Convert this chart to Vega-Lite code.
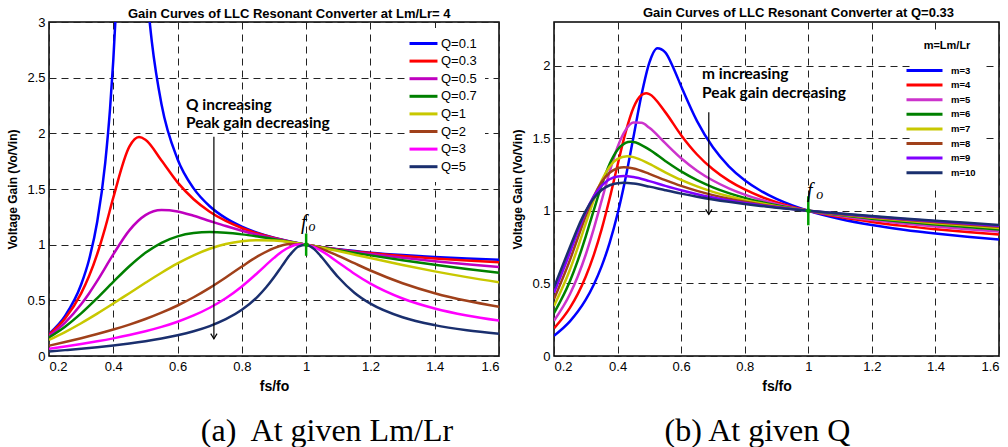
{
"$schema":"https://vega.github.io/schema/vega-lite/v6.json",
"padding":{"left":6,"top":6,"right":0,"bottom":0},
"background":"white",
"config":{
 "font":"Liberation Sans",
 "view":{"stroke":"black","strokeWidth":1.5},
 "axis":{"labelFont":"Liberation Sans","labelFontSize":13,"labelColor":"black","titleFont":"Liberation Sans","titleFontSize":12,"titleFontWeight":"bold","titleColor":"black","grid":true,"gridColor":"#222","gridDash":[7,5],"gridWidth":1,"domain":false,"ticks":false,"labelPadding":4},
 "axisX":{"titlePadding":6,"titleFontSize":14},
 "axisY":{"titlePadding":7},
 "title":{"font":"Liberation Sans","fontSize":13,"fontWeight":"bold","color":"black","offset":-5,"frame":"group"},
 "legend":{"orient":"none","symbolStrokeWidth":3,"fillColor":"white","labelColor":"black","labelFont":"Liberation Sans"}
},
"datasets":{
"a":[
{"s":"Q=0.1","x":0.2,"y":0.1991},{"s":"Q=0.1","x":0.25,"y":0.3603},{"s":"Q=0.1","x":0.3,"y":0.642},{"s":"Q=0.1","x":0.325,"y":0.8694},{"s":"Q=0.1","x":0.35,"y":1.2054},{"s":"Q=0.1","x":0.375,"y":1.738},{"s":"Q=0.1","x":0.39,"y":2.2236},{"s":"Q=0.1","x":0.4,"y":2.656},{"s":"Q=0.1","x":0.41,"y":3.204},{"s":"Q=0.1","x":0.45,"y":5.62},{"s":"Q=0.1","x":0.48,"y":4.347},{"s":"Q=0.1","x":0.5,"y":3.43},{"s":"Q=0.1","x":0.51,"y":3.094},{"s":"Q=0.1","x":0.52,"y":2.822},{"s":"Q=0.1","x":0.55,"y":2.2615},{"s":"Q=0.1","x":0.6,"y":1.7676},{"s":"Q=0.1","x":0.65,"y":1.5054},{"s":"Q=0.1","x":0.7,"y":1.3452},{"s":"Q=0.1","x":0.75,"y":1.2381},{"s":"Q=0.1","x":0.8,"y":1.162},{"s":"Q=0.1","x":0.85,"y":1.1055},{"s":"Q=0.1","x":0.9,"y":1.062},{"s":"Q=0.1","x":0.95,"y":1.0277},{"s":"Q=0.1","x":1,"y":1},{"s":"Q=0.1","x":1.05,"y":0.9772},{"s":"Q=0.1","x":1.1,"y":0.9582},{"s":"Q=0.1","x":1.2,"y":0.9285},{"s":"Q=0.1","x":1.3,"y":0.9063},{"s":"Q=0.1","x":1.4,"y":0.8893},{"s":"Q=0.1","x":1.5,"y":0.8757},{"s":"Q=0.1","x":1.6,"y":0.8647},
{"s":"Q=0.3","x":0.2,"y":0.1922},{"s":"Q=0.3","x":0.25,"y":0.3366},{"s":"Q=0.3","x":0.3,"y":0.5623},{"s":"Q=0.3","x":0.325,"y":0.72},{"s":"Q=0.3","x":0.35,"y":0.9163},{"s":"Q=0.3","x":0.375,"y":1.1538},{"s":"Q=0.3","x":0.4,"y":1.422},{"s":"Q=0.3","x":0.45,"y":1.8801},{"s":"Q=0.3","x":0.48,"y":1.9666},{"s":"Q=0.3","x":0.5,"y":1.9426},{"s":"Q=0.3","x":0.55,"y":1.7563},{"s":"Q=0.3","x":0.6,"y":1.5597},{"s":"Q=0.3","x":0.65,"y":1.408},{"s":"Q=0.3","x":0.7,"y":1.2963},{"s":"Q=0.3","x":0.75,"y":1.213},{"s":"Q=0.3","x":0.8,"y":1.1495},{"s":"Q=0.3","x":0.85,"y":1.0998},{"s":"Q=0.3","x":0.9,"y":1.0599},{"s":"Q=0.3","x":0.95,"y":1.0272},{"s":"Q=0.3","x":1,"y":1},{"s":"Q=0.3","x":1.05,"y":0.9769},{"s":"Q=0.3","x":1.1,"y":0.957},{"s":"Q=0.3","x":1.2,"y":0.9242},{"s":"Q=0.3","x":1.3,"y":0.898},{"s":"Q=0.3","x":1.4,"y":0.8763},{"s":"Q=0.3","x":1.5,"y":0.8576},{"s":"Q=0.3","x":1.6,"y":0.8411},
{"s":"Q=0.5","x":0.2,"y":0.1803},{"s":"Q=0.5","x":0.25,"y":0.3004},{"s":"Q=0.5","x":0.3,"y":0.4645},{"s":"Q=0.5","x":0.325,"y":0.5643},{"s":"Q=0.5","x":0.35,"y":0.6747},{"s":"Q=0.5","x":0.4,"y":0.9128},{"s":"Q=0.5","x":0.45,"y":1.1284},{"s":"Q=0.5","x":0.5,"y":1.2649},{"s":"Q=0.5","x":0.55,"y":1.3113},{"s":"Q=0.5","x":0.6,"y":1.2984},{"s":"Q=0.5","x":0.65,"y":1.2592},{"s":"Q=0.5","x":0.7,"y":1.2127},{"s":"Q=0.5","x":0.75,"y":1.1672},{"s":"Q=0.5","x":0.8,"y":1.1257},{"s":"Q=0.5","x":0.85,"y":1.0886},{"s":"Q=0.5","x":0.9,"y":1.0556},{"s":"Q=0.5","x":0.95,"y":1.0263},{"s":"Q=0.5","x":1,"y":1},{"s":"Q=0.5","x":1.05,"y":0.9762},{"s":"Q=0.5","x":1.1,"y":0.9544},{"s":"Q=0.5","x":1.2,"y":0.9158},{"s":"Q=0.5","x":1.3,"y":0.8821},{"s":"Q=0.5","x":1.4,"y":0.8521},{"s":"Q=0.5","x":1.5,"y":0.8246},{"s":"Q=0.5","x":1.6,"y":0.7992},
{"s":"Q=0.7","x":0.2,"y":0.166},{"s":"Q=0.7","x":0.25,"y":0.263},{"s":"Q=0.7","x":0.3,"y":0.3823},{"s":"Q=0.7","x":0.35,"y":0.5195},{"s":"Q=0.7","x":0.4,"y":0.6654},{"s":"Q=0.7","x":0.45,"y":0.806},{"s":"Q=0.7","x":0.5,"y":0.9265},{"s":"Q=0.7","x":0.55,"y":1.0167},{"s":"Q=0.7","x":0.6,"y":1.0745},{"s":"Q=0.7","x":0.65,"y":1.1042},{"s":"Q=0.7","x":0.7,"y":1.1129},{"s":"Q=0.7","x":0.75,"y":1.1072},{"s":"Q=0.7","x":0.8,"y":1.0925},{"s":"Q=0.7","x":0.85,"y":1.0725},{"s":"Q=0.7","x":0.9,"y":1.0494},{"s":"Q=0.7","x":0.95,"y":1.025},{"s":"Q=0.7","x":1,"y":1},{"s":"Q=0.7","x":1.05,"y":0.9751},{"s":"Q=0.7","x":1.1,"y":0.9506},{"s":"Q=0.7","x":1.2,"y":0.9037},{"s":"Q=0.7","x":1.3,"y":0.8598},{"s":"Q=0.7","x":1.4,"y":0.8192},{"s":"Q=0.7","x":1.5,"y":0.7815},{"s":"Q=0.7","x":1.6,"y":0.7467},
{"s":"Q=1","x":0.2,"y":0.1443},{"s":"Q=1","x":0.25,"y":0.215},{"s":"Q=1","x":0.3,"y":0.2944},{"s":"Q=1","x":0.35,"y":0.3804},{"s":"Q=1","x":0.4,"y":0.471},{"s":"Q=1","x":0.45,"y":0.5643},{"s":"Q=1","x":0.5,"y":0.6576},{"s":"Q=1","x":0.55,"y":0.7479},{"s":"Q=1","x":0.6,"y":0.8315},{"s":"Q=1","x":0.65,"y":0.9043},{"s":"Q=1","x":0.7,"y":0.9631},{"s":"Q=1","x":0.75,"y":1.0054},{"s":"Q=1","x":0.8,"y":1.0308},{"s":"Q=1","x":0.85,"y":1.0404},{"s":"Q=1","x":0.9,"y":1.0365},{"s":"Q=1","x":0.95,"y":1.0221},{"s":"Q=1","x":1,"y":1},{"s":"Q=1","x":1.05,"y":0.9729},{"s":"Q=1","x":1.1,"y":0.9428},{"s":"Q=1","x":1.2,"y":0.8794},{"s":"Q=1","x":1.3,"y":0.8175},{"s":"Q=1","x":1.4,"y":0.7603},{"s":"Q=1","x":1.5,"y":0.7086},{"s":"Q=1","x":1.6,"y":0.6625},
{"s":"Q=2","x":0.2,"y":0.0924},{"s":"Q=2","x":0.25,"y":0.1252},{"s":"Q=2","x":0.3,"y":0.1598},{"s":"Q=2","x":0.35,"y":0.197},{"s":"Q=2","x":0.4,"y":0.2374},{"s":"Q=2","x":0.45,"y":0.2821},{"s":"Q=2","x":0.5,"y":0.3322},{"s":"Q=2","x":0.55,"y":0.3889},{"s":"Q=2","x":0.6,"y":0.4536},{"s":"Q=2","x":0.65,"y":0.5277},{"s":"Q=2","x":0.7,"y":0.6119},{"s":"Q=2","x":0.75,"y":0.7053},{"s":"Q=2","x":0.8,"y":0.8036},{"s":"Q=2","x":0.85,"y":0.8967},{"s":"Q=2","x":0.9,"y":0.9692},{"s":"Q=2","x":0.95,"y":1.0056},{"s":"Q=2","x":1,"y":1},{"s":"Q=2","x":1.05,"y":0.96},{"s":"Q=2","x":1.1,"y":0.9},{"s":"Q=2","x":1.15,"y":0.8333},{"s":"Q=2","x":1.2,"y":0.7678},{"s":"Q=2","x":1.3,"y":0.6535},{"s":"Q=2","x":1.4,"y":0.5643},{"s":"Q=2","x":1.5,"y":0.4954},{"s":"Q=2","x":1.6,"y":0.4415},
{"s":"Q=3","x":0.2,"y":0.0656},{"s":"Q=3","x":0.25,"y":0.0863},{"s":"Q=3","x":0.3,"y":0.1084},{"s":"Q=3","x":0.35,"y":0.1322},{"s":"Q=3","x":0.4,"y":0.1585},{"s":"Q=3","x":0.45,"y":0.1881},{"s":"Q=3","x":0.5,"y":0.2219},{"s":"Q=3","x":0.55,"y":0.2612},{"s":"Q=3","x":0.6,"y":0.3079},{"s":"Q=3","x":0.65,"y":0.3642},{"s":"Q=3","x":0.7,"y":0.4334},{"s":"Q=3","x":0.75,"y":0.5191},{"s":"Q=3","x":0.8,"y":0.6249},{"s":"Q=3","x":0.85,"y":0.7502},{"s":"Q=3","x":0.9,"y":0.8814},{"s":"Q=3","x":0.925,"y":0.938},{"s":"Q=3","x":0.95,"y":0.9799},{"s":"Q=3","x":0.975,"y":1.0014},{"s":"Q=3","x":1,"y":1},{"s":"Q=3","x":1.025,"y":0.9777},{"s":"Q=3","x":1.05,"y":0.9396},{"s":"Q=3","x":1.1,"y":0.8402},{"s":"Q=3","x":1.15,"y":0.7385},{"s":"Q=3","x":1.2,"y":0.6498},{"s":"Q=3","x":1.3,"y":0.5164},{"s":"Q=3","x":1.4,"y":0.4267},{"s":"Q=3","x":1.5,"y":0.364},{"s":"Q=3","x":1.6,"y":0.3181},
{"s":"Q=5","x":0.2,"y":0.0408},{"s":"Q=5","x":0.25,"y":0.0528},{"s":"Q=5","x":0.3,"y":0.0656},{"s":"Q=5","x":0.35,"y":0.0796},{"s":"Q=5","x":0.4,"y":0.0952},{"s":"Q=5","x":0.45,"y":0.1129},{"s":"Q=5","x":0.5,"y":0.1333},{"s":"Q=5","x":0.55,"y":0.1574},{"s":"Q=5","x":0.6,"y":0.1865},{"s":"Q=5","x":0.65,"y":0.2227},{"s":"Q=5","x":0.7,"y":0.269},{"s":"Q=5","x":0.75,"y":0.3305},{"s":"Q=5","x":0.8,"y":0.4152},{"s":"Q=5","x":0.85,"y":0.5359},{"s":"Q=5","x":0.875,"y":0.6147},{"s":"Q=5","x":0.9,"y":0.707},{"s":"Q=5","x":0.925,"y":0.8094},{"s":"Q=5","x":0.95,"y":0.9092},{"s":"Q=5","x":0.975,"y":0.9814},{"s":"Q=5","x":1,"y":1},{"s":"Q=5","x":1.025,"y":0.9599},{"s":"Q=5","x":1.05,"y":0.8821},{"s":"Q=5","x":1.075,"y":0.7925},{"s":"Q=5","x":1.1,"y":0.7072},{"s":"Q=5","x":1.15,"y":0.5687},{"s":"Q=5","x":1.2,"y":0.4704},{"s":"Q=5","x":1.3,"y":0.348},{"s":"Q=5","x":1.4,"y":0.2772},{"s":"Q=5","x":1.5,"y":0.2315},{"s":"Q=5","x":1.6,"y":0.1996}
],
"b":[
{"s":"m=3","x":0.2,"y":0.1393},{"s":"m=3","x":0.25,"y":0.2388},{"s":"m=3","x":0.275,"y":0.306},{"s":"m=3","x":0.3,"y":0.3886},{"s":"m=3","x":0.325,"y":0.4911},{"s":"m=3","x":0.35,"y":0.6189},{"s":"m=3","x":0.375,"y":0.7791},{"s":"m=3","x":0.4,"y":0.9793},{"s":"m=3","x":0.425,"y":1.2244},{"s":"m=3","x":0.45,"y":1.5078},{"s":"m=3","x":0.475,"y":1.7955},{"s":"m=3","x":0.5,"y":2.0202},{"s":"m=3","x":0.525,"y":2.1191},{"s":"m=3","x":0.55,"y":2.0911},{"s":"m=3","x":0.575,"y":1.9869},{"s":"m=3","x":0.6,"y":1.8573},{"s":"m=3","x":0.65,"y":1.6173},{"s":"m=3","x":0.7,"y":1.437},{"s":"m=3","x":0.75,"y":1.3066},{"s":"m=3","x":0.8,"y":1.2107},{"s":"m=3","x":0.85,"y":1.1382},{"s":"m=3","x":0.9,"y":1.0817},{"s":"m=3","x":0.95,"y":1.0367},{"s":"m=3","x":1,"y":1},{"s":"m=3","x":1.1,"y":0.9436},{"s":"m=3","x":1.2,"y":0.9021},{"s":"m=3","x":1.3,"y":0.8699},{"s":"m=3","x":1.4,"y":0.8438},{"s":"m=3","x":1.5,"y":0.8219},{"s":"m=3","x":1.6,"y":0.803},
{"s":"m=4","x":0.2,"y":0.1907},{"s":"m=4","x":0.25,"y":0.3316},{"s":"m=4","x":0.275,"y":0.4281},{"s":"m=4","x":0.3,"y":0.5475},{"s":"m=4","x":0.325,"y":0.6947},{"s":"m=4","x":0.35,"y":0.8737},{"s":"m=4","x":0.375,"y":1.0844},{"s":"m=4","x":0.4,"y":1.3154},{"s":"m=4","x":0.425,"y":1.538},{"s":"m=4","x":0.45,"y":1.7093},{"s":"m=4","x":0.475,"y":1.7972},{"s":"m=4","x":0.49,"y":1.8093},{"s":"m=4","x":0.5,"y":1.8032},{"s":"m=4","x":0.55,"y":1.6794},{"s":"m=4","x":0.6,"y":1.5204},{"s":"m=4","x":0.65,"y":1.3876},{"s":"m=4","x":0.7,"y":1.2855},{"s":"m=4","x":0.75,"y":1.2073},{"s":"m=4","x":0.8,"y":1.1466},{"s":"m=4","x":0.85,"y":1.0984},{"s":"m=4","x":0.9,"y":1.0594},{"s":"m=4","x":0.95,"y":1.0271},{"s":"m=4","x":1,"y":1},{"s":"m=4","x":1.1,"y":0.9567},{"s":"m=4","x":1.2,"y":0.9232},{"s":"m=4","x":1.3,"y":0.8961},{"s":"m=4","x":1.4,"y":0.8734},{"s":"m=4","x":1.5,"y":0.8535},{"s":"m=4","x":1.6,"y":0.8359},
{"s":"m=5","x":0.2,"y":0.2429},{"s":"m=5","x":0.25,"y":0.4252},{"s":"m=5","x":0.275,"y":0.549},{"s":"m=5","x":0.3,"y":0.6989},{"s":"m=5","x":0.325,"y":0.8752},{"s":"m=5","x":0.35,"y":1.0711},{"s":"m=5","x":0.375,"y":1.2687},{"s":"m=5","x":0.4,"y":1.4393},{"s":"m=5","x":0.425,"y":1.5553},{"s":"m=5","x":0.45,"y":1.6072},{"s":"m=5","x":0.475,"y":1.6059},{"s":"m=5","x":0.5,"y":1.5713},{"s":"m=5","x":0.55,"y":1.4657},{"s":"m=5","x":0.6,"y":1.3618},{"s":"m=5","x":0.65,"y":1.2762},{"s":"m=5","x":0.7,"y":1.2084},{"s":"m=5","x":0.75,"y":1.1546},{"s":"m=5","x":0.8,"y":1.1113},{"s":"m=5","x":0.85,"y":1.0759},{"s":"m=5","x":0.9,"y":1.0464},{"s":"m=5","x":0.95,"y":1.0215},{"s":"m=5","x":1,"y":1},{"s":"m=5","x":1.1,"y":0.9647},{"s":"m=5","x":1.2,"y":0.9363},{"s":"m=5","x":1.3,"y":0.9126},{"s":"m=5","x":1.4,"y":0.892},{"s":"m=5","x":1.5,"y":0.8736},{"s":"m=5","x":1.6,"y":0.8568},
{"s":"m=6","x":0.2,"y":0.2948},{"s":"m=6","x":0.25,"y":0.5142},{"s":"m=6","x":0.275,"y":0.6585},{"s":"m=6","x":0.3,"y":0.8244},{"s":"m=6","x":0.325,"y":1.0031},{"s":"m=6","x":0.35,"y":1.1768},{"s":"m=6","x":0.375,"y":1.3219},{"s":"m=6","x":0.4,"y":1.4201},{"s":"m=6","x":0.425,"y":1.4676},{"s":"m=6","x":0.44,"y":1.4756},{"s":"m=6","x":0.45,"y":1.4743},{"s":"m=6","x":0.5,"y":1.4213},{"s":"m=6","x":0.55,"y":1.3432},{"s":"m=6","x":0.6,"y":1.2709},{"s":"m=6","x":0.65,"y":1.2107},{"s":"m=6","x":0.7,"y":1.1617},{"s":"m=6","x":0.75,"y":1.1218},{"s":"m=6","x":0.8,"y":1.0889},{"s":"m=6","x":0.85,"y":1.0614},{"s":"m=6","x":0.9,"y":1.038},{"s":"m=6","x":0.95,"y":1.0177},{"s":"m=6","x":1,"y":1},{"s":"m=6","x":1.1,"y":0.9701},{"s":"m=6","x":1.2,"y":0.9453},{"s":"m=6","x":1.3,"y":0.9239},{"s":"m=6","x":1.4,"y":0.9049},{"s":"m=6","x":1.5,"y":0.8876},{"s":"m=6","x":1.6,"y":0.8714},
{"s":"m=7","x":0.2,"y":0.3449},{"s":"m=7","x":0.25,"y":0.5936},{"s":"m=7","x":0.275,"y":0.748},{"s":"m=7","x":0.3,"y":0.913},{"s":"m=7","x":0.325,"y":1.0729},{"s":"m=7","x":0.35,"y":1.2082},{"s":"m=7","x":0.375,"y":1.3041},{"s":"m=7","x":0.4,"y":1.3574},{"s":"m=7","x":0.43,"y":1.3757},{"s":"m=7","x":0.45,"y":1.3693},{"s":"m=7","x":0.5,"y":1.3227},{"s":"m=7","x":0.55,"y":1.2651},{"s":"m=7","x":0.6,"y":1.2123},{"s":"m=7","x":0.65,"y":1.1676},{"s":"m=7","x":0.7,"y":1.1304},{"s":"m=7","x":0.75,"y":1.0995},{"s":"m=7","x":0.8,"y":1.0735},{"s":"m=7","x":0.85,"y":1.0512},{"s":"m=7","x":0.9,"y":1.032},{"s":"m=7","x":0.95,"y":1.0151},{"s":"m=7","x":1,"y":1},{"s":"m=7","x":1.1,"y":0.974},{"s":"m=7","x":1.2,"y":0.9518},{"s":"m=7","x":1.3,"y":0.9322},{"s":"m=7","x":1.4,"y":0.9144},{"s":"m=7","x":1.5,"y":0.8978},{"s":"m=7","x":1.6,"y":0.8821},
{"s":"m=8","x":0.2,"y":0.392},{"s":"m=8","x":0.25,"y":0.6598},{"s":"m=8","x":0.275,"y":0.814},{"s":"m=8","x":0.3,"y":0.966},{"s":"m=8","x":0.325,"y":1.0989},{"s":"m=8","x":0.35,"y":1.1991},{"s":"m=8","x":0.375,"y":1.2622},{"s":"m=8","x":0.4,"y":1.2927},{"s":"m=8","x":0.42,"y":1.2995},{"s":"m=8","x":0.45,"y":1.2912},{"s":"m=8","x":0.5,"y":1.2543},{"s":"m=8","x":0.55,"y":1.2111},{"s":"m=8","x":0.6,"y":1.1713},{"s":"m=8","x":0.65,"y":1.1371},{"s":"m=8","x":0.7,"y":1.108},{"s":"m=8","x":0.75,"y":1.0833},{"s":"m=8","x":0.8,"y":1.0622},{"s":"m=8","x":0.85,"y":1.0438},{"s":"m=8","x":0.9,"y":1.0276},{"s":"m=8","x":0.95,"y":1.0131},{"s":"m=8","x":1,"y":1},{"s":"m=8","x":1.1,"y":0.9769},{"s":"m=8","x":1.2,"y":0.9567},{"s":"m=8","x":1.3,"y":0.9385},{"s":"m=8","x":1.4,"y":0.9216},{"s":"m=8","x":1.5,"y":0.9056},{"s":"m=8","x":1.6,"y":0.8903},
{"s":"m=9","x":0.2,"y":0.4349},{"s":"m=9","x":0.25,"y":0.7114},{"s":"m=9","x":0.275,"y":0.8579},{"s":"m=9","x":0.3,"y":0.9915},{"s":"m=9","x":0.325,"y":1.0988},{"s":"m=9","x":0.35,"y":1.1735},{"s":"m=9","x":0.375,"y":1.2172},{"s":"m=9","x":0.4,"y":1.2367},{"s":"m=9","x":0.42,"y":1.24},{"s":"m=9","x":0.45,"y":1.2325},{"s":"m=9","x":0.5,"y":1.2043},{"s":"m=9","x":0.55,"y":1.1717},{"s":"m=9","x":0.6,"y":1.1412},{"s":"m=9","x":0.65,"y":1.1144},{"s":"m=9","x":0.7,"y":1.0912},{"s":"m=9","x":0.75,"y":1.0711},{"s":"m=9","x":0.8,"y":1.0535},{"s":"m=9","x":0.85,"y":1.038},{"s":"m=9","x":0.9,"y":1.0242},{"s":"m=9","x":0.95,"y":1.0116},{"s":"m=9","x":1,"y":1},{"s":"m=9","x":1.1,"y":0.9792},{"s":"m=9","x":1.2,"y":0.9606},{"s":"m=9","x":1.3,"y":0.9434},{"s":"m=9","x":1.4,"y":0.9273},{"s":"m=9","x":1.5,"y":0.9118},{"s":"m=9","x":1.6,"y":0.8967},
{"s":"m=10","x":0.2,"y":0.473},{"s":"m=10","x":0.25,"y":0.7492},{"s":"m=10","x":0.275,"y":0.8839},{"s":"m=10","x":0.3,"y":0.9989},{"s":"m=10","x":0.325,"y":1.0858},{"s":"m=10","x":0.35,"y":1.1433},{"s":"m=10","x":0.375,"y":1.1759},{"s":"m=10","x":0.4,"y":1.1902},{"s":"m=10","x":0.42,"y":1.1927},{"s":"m=10","x":0.45,"y":1.1872},{"s":"m=10","x":0.5,"y":1.1664},{"s":"m=10","x":0.55,"y":1.1417},{"s":"m=10","x":0.6,"y":1.1181},{"s":"m=10","x":0.65,"y":1.0968},{"s":"m=10","x":0.7,"y":1.078},{"s":"m=10","x":0.75,"y":1.0615},{"s":"m=10","x":0.8,"y":1.0467},{"s":"m=10","x":0.85,"y":1.0335},{"s":"m=10","x":0.9,"y":1.0214},{"s":"m=10","x":0.95,"y":1.0103},{"s":"m=10","x":1,"y":1},{"s":"m=10","x":1.1,"y":0.9811},{"s":"m=10","x":1.2,"y":0.9637},{"s":"m=10","x":1.3,"y":0.9474},{"s":"m=10","x":1.4,"y":0.9319},{"s":"m=10","x":1.5,"y":0.9168},{"s":"m=10","x":1.6,"y":0.902}
]
},
"hconcat":[
{"title":{"text":"(a)\u00a0 At given Lm/Lr","orient":"bottom","anchor":"middle","frame":"bounds","font":"Liberation Serif","fontSize":32,"fontWeight":"normal","offset":22,"dx":74},
 "vconcat":[{
 "width":450,"height":334,
 "title":{"text":"Gain Curves of LLC Resonant Converter at Lm/Lr= 4","anchor":"start","dx":79},
 "layer":[
  {"data":{"name":"a"},"mark":{"type":"line","strokeWidth":2.5,"clip":true,"interpolate":"monotone"},
   "encoding":{
    "x":{"field":"x","type":"quantitative","scale":{"domain":[0.2,1.6],"nice":false,"zero":false},"axis":{"title":"fs/fo","values":[0.2,0.4,0.6,0.8,1,1.2,1.4,1.6],"format":"~g"}},
    "y":{"field":"y","type":"quantitative","scale":{"domain":[0,3],"nice":false},"axis":{"title":"Voltage Gain (Vo/Vin)","values":[0,0.5,1,1.5,2,2.5,3],"format":"~g"}},
    "color":{"field":"s","type":"nominal","scale":{"domain":["Q=0.1","Q=0.3","Q=0.5","Q=0.7","Q=1","Q=2","Q=3","Q=5"],"range":["#0000ff","#ff0000","#bf00bf","#008000","#c8c800","#a0401a","#ff00ff","#1a2f6e"]},
     "legend":{"title":null,"legendX":359,"legendY":6,"symbolType":"M-2.33,0H2.33","symbolSize":144,"labelFontSize":13,"labelOffset":10,"rowPadding":2.6,"padding":8}}
   }},
  {"data":{"values":[{"x":1,"y":0.9,"y2":1.1}]},"mark":{"type":"rule","color":"#00a000","strokeWidth":2.5},
   "encoding":{"x":{"field":"x","type":"quantitative"},"y":{"field":"y","type":"quantitative"},"y2":{"field":"y2"}}},
  {"data":{"values":[{"x":1,"y":1}]},"mark":{"type":"point","shape":"diamond","filled":true,"color":"#00a000","size":40,"opacity":1},
   "encoding":{"x":{"field":"x","type":"quantitative"},"y":{"field":"y","type":"quantitative"}}},
  {"data":{"values":[{"x":0.713,"y":1.97,"y2":0.155}]},"mark":{"type":"rule","color":"black","strokeWidth":1.2},
   "encoding":{"x":{"field":"x","type":"quantitative"},"y":{"field":"y","type":"quantitative"},"y2":{"field":"y2"}}},
  {"data":{"values":[{"x":0.713,"y":0.155}]},"mark":{"type":"point","shape":"M-1,-1.6L0,0L1,-1.6","filled":false,"color":"black","strokeWidth":1.2,"size":40,"opacity":1},
   "encoding":{"x":{"field":"x","type":"quantitative"},"y":{"field":"y","type":"quantitative"}}},
  {"data":{"values":[{"x":0.626,"y":2.211,"t":"Q increasing"},{"x":0.626,"y":2.049,"t":"Peak gain decreasing"}]},
   "mark":{"type":"text","align":"left","baseline":"alphabetic","font":"Lato","fontWeight":"bold","fontSize":15.5,"color":"black"},
   "encoding":{"x":{"field":"x","type":"quantitative"},"y":{"field":"y","type":"quantitative"},"text":{"field":"t"}}},
  {"data":{"values":[{"x":0.993,"y":1.14,"t":"f"}]},
   "mark":{"type":"text","align":"center","baseline":"alphabetic","font":"Liberation Serif","fontStyle":"italic","fontSize":20,"color":"black"},
   "encoding":{"x":{"field":"x","type":"quantitative"},"y":{"field":"y","type":"quantitative"},"text":{"field":"t"}}},
  {"data":{"values":[{"x":1.018,"y":1.12,"t":"o"}]},
   "mark":{"type":"text","align":"center","baseline":"alphabetic","font":"Liberation Serif","fontStyle":"italic","fontSize":14,"color":"black"},
   "encoding":{"x":{"field":"x","type":"quantitative"},"y":{"field":"y","type":"quantitative"},"text":{"field":"t"}}}
 ]}]},
{"title":{"text":"(b) At given Q","orient":"bottom","anchor":"middle","frame":"bounds","font":"Liberation Serif","fontSize":32,"fontWeight":"normal","offset":22,"dx":2},
 "vconcat":[{
 "width":445,"height":334,
 "title":{"text":"Gain Curves of LLC Resonant Converter at Q=0.33","anchor":"start","dx":89,"offset":2},
 "layer":[
  {"data":{"name":"b"},"mark":{"type":"line","strokeWidth":2.5,"clip":true,"interpolate":"monotone"},
   "encoding":{
    "x":{"field":"x","type":"quantitative","scale":{"domain":[0.2,1.6],"nice":false,"zero":false},"axis":{"title":"fs/fo","values":[0.2,0.4,0.6,0.8,1,1.2,1.4,1.6],"format":"~g"}},
    "y":{"field":"y","type":"quantitative","scale":{"domain":[0,2.3],"nice":false},"axis":{"title":"Voltage Gain (Vo/Vin)","values":[0,0.5,1,1.5,2],"format":"~g"}},
    "color":{"field":"s","type":"nominal","scale":{"domain":["m=3","m=4","m=5","m=6","m=7","m=8","m=9","m=10"],"range":["#0000ff","#ff0000","#cc33cc","#008000","#c8c800","#a0401a","#8000ff","#1a2f6e"]},
     "legend":{"title":"m=Lm/Lr","titleFontSize":11,"titleFontWeight":"bold","titleColor":"black","titleAnchor":"middle","titlePadding":13,"legendX":357,"legendY":11,"symbolType":"M-3.6,0H3.6","symbolSize":100,"labelFontSize":9.5,"labelFontWeight":"bold","labelOffset":20,"rowPadding":1.6,"padding":7}}
   }},
  {"data":{"values":[{"x":1,"y":0.9,"y2":1.1}]},"mark":{"type":"rule","color":"#00a000","strokeWidth":2.5},
   "encoding":{"x":{"field":"x","type":"quantitative"},"y":{"field":"y","type":"quantitative"},"y2":{"field":"y2"}}},
  {"data":{"values":[{"x":1,"y":1}]},"mark":{"type":"point","shape":"diamond","filled":true,"color":"#00a000","size":40,"opacity":1},
   "encoding":{"x":{"field":"x","type":"quantitative"},"y":{"field":"y","type":"quantitative"}}},
  {"data":{"values":[{"x":0.687,"y":1.678,"y2":0.975}]},"mark":{"type":"rule","color":"black","strokeWidth":1.2},
   "encoding":{"x":{"field":"x","type":"quantitative"},"y":{"field":"y","type":"quantitative"},"y2":{"field":"y2"}}},
  {"data":{"values":[{"x":0.687,"y":0.975}]},"mark":{"type":"point","shape":"M-1,-1.6L0,0L1,-1.6","filled":false,"color":"black","strokeWidth":1.2,"size":40,"opacity":1},
   "encoding":{"x":{"field":"x","type":"quantitative"},"y":{"field":"y","type":"quantitative"}}},
  {"data":{"values":[{"x":0.666,"y":1.908,"t":"m increasing"},{"x":0.666,"y":1.777,"t":"Peak gain decreasing"}]},
   "mark":{"type":"text","align":"left","baseline":"alphabetic","font":"Lato","fontWeight":"bold","fontSize":15.5,"color":"black"},
   "encoding":{"x":{"field":"x","type":"quantitative"},"y":{"field":"y","type":"quantitative"},"text":{"field":"t"}}},
  {"data":{"values":[{"x":1.005,"y":1.094,"t":"f"}]},
   "mark":{"type":"text","align":"center","baseline":"alphabetic","font":"Liberation Serif","fontStyle":"italic","fontSize":20,"color":"black"},
   "encoding":{"x":{"field":"x","type":"quantitative"},"y":{"field":"y","type":"quantitative"},"text":{"field":"t"}}},
  {"data":{"values":[{"x":1.036,"y":1.08,"t":"o"}]},
   "mark":{"type":"text","align":"center","baseline":"alphabetic","font":"Liberation Serif","fontStyle":"italic","fontSize":14,"color":"black"},
   "encoding":{"x":{"field":"x","type":"quantitative"},"y":{"field":"y","type":"quantitative"},"text":{"field":"t"}}}
 ]}]}
],
"spacing":11,
"resolve":{"scale":{"color":"independent","x":"independent","y":"independent"},"legend":{"color":"independent"}}
}
